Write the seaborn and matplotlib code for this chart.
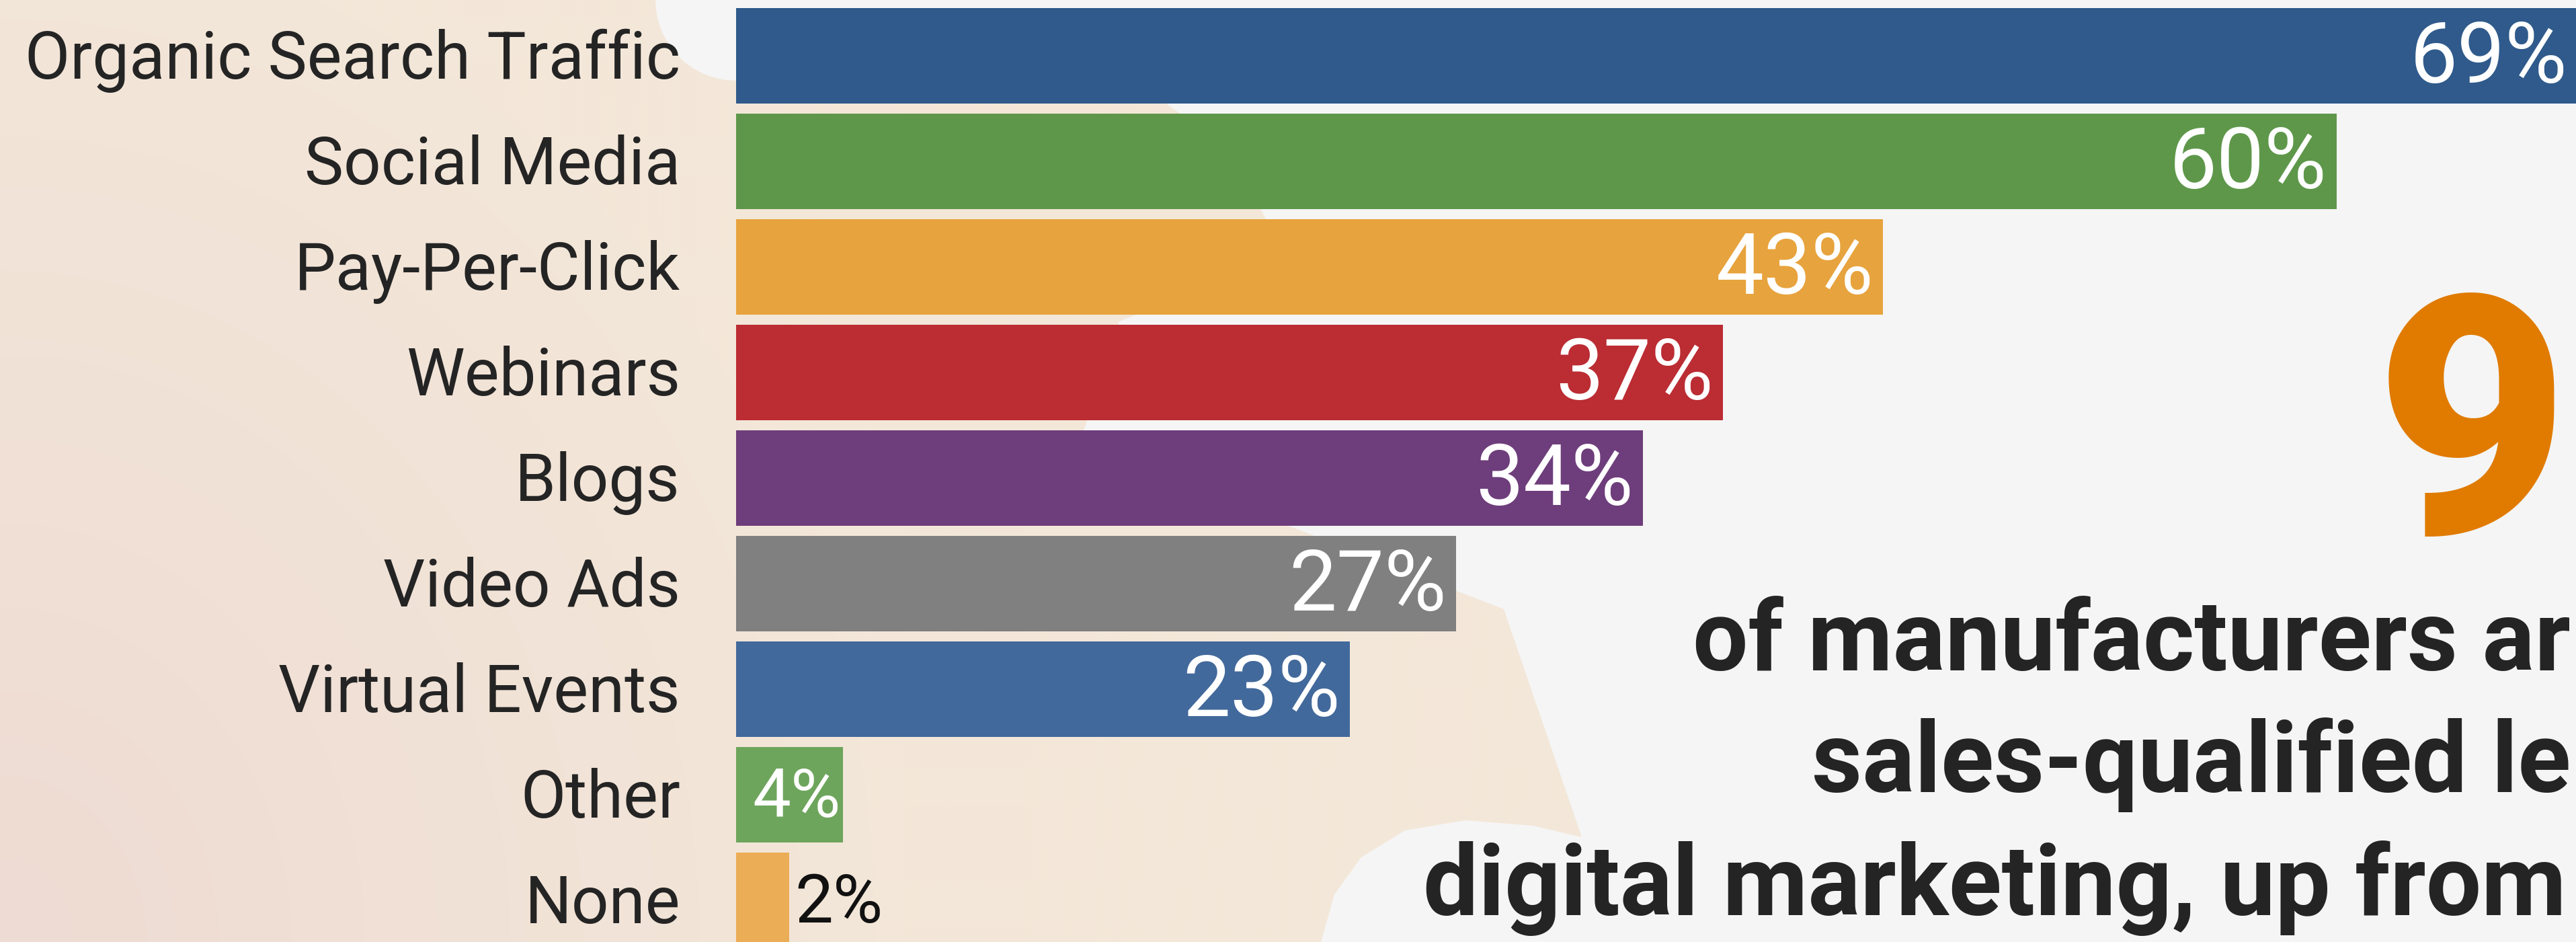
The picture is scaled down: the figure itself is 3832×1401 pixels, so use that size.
import numpy as np
import pandas as pd
import matplotlib
matplotlib.use("Agg")
import matplotlib.pyplot as plt
import seaborn as sns
from matplotlib import transforms
from matplotlib.path import Path
from matplotlib.patches import PathPatch

# ---------------- data ----------------
categories = ["Organic Search Traffic", "Social Media", "Pay-Per-Click", "Webinars",
              "Blogs", "Video Ads", "Virtual Events", "Other", "None"]
values = [69, 60, 43, 37, 34, 27, 23, 4, 2]
value_labels = ["69%", "60%", "43%", "37%", "34%", "27%", "23%", "4%", "2%"]
bar_colors = ["#2f5a8b", "#5e974a", "#e7a33d", "#bb2c33", "#6e3d7b",
              "#7f807f", "#42699b", "#6ea55c", "#ebad55"]
label_inside = [True, True, True, True, True, True, True, True, False]
label_small = [False, False, False, False, False, False, False, True, True]
headline_lines = ["of manufacturers ar", "sales-qualified le", "digital marketing, up from"]
big_number = "9"

# ---------------- figure ----------------
W, H, DPI = 3832, 1401, 100
sns.set_style("white")
plt.rcParams["font.family"] = ["Roboto", "DejaVu Sans"]

fig = plt.figure(figsize=(W / DPI, H / DPI), dpi=DPI, facecolor="#f5f5f5")

# background shapes (pixel coordinates, y downward)
bg = fig.add_axes([0, 0, 1, 1], zorder=0)
bg.set_axis_off()
yy, xx = np.mgrid[0:H:3, 0:W:3].astype(float)
p = np.clip(1 - np.sqrt((xx / 1300.0) ** 2 + ((H - yy) / 1500.0) ** 2), 0, 1)
beige = np.array([243, 231, 217]) / 255.0
pink = np.array([238, 219, 211]) / 255.0
rgb = beige[None, None, :] * (1 - p[..., None]) + pink[None, None, :] * p[..., None]
im = bg.imshow(rgb, extent=(0, W, H, 0), interpolation="bilinear", aspect="auto")

verts = [(0, 0), (975, 0)]
for th in np.linspace(np.pi, np.pi / 2, 12)[1:]:
    verts.append((1095 + 120 * np.cos(th), 120 * np.sin(th)))
verts += [(1650, 122), (1715, 140), (1785, 190), (1850, 260), (1885, 330), (1860, 395),
          (1760, 440), (1665, 478), (1615, 632), (1590, 700), (1760, 740), (1922, 784),
          (2237, 906), (2353, 1245), (2280, 1228), (2180, 1220), (2090, 1235),
          (2025, 1275), (1985, 1330), (1965, 1401), (0, 1401), (0, 0)]
codes = [Path.MOVETO] + [Path.LINETO] * (len(verts) - 2) + [Path.CLOSEPOLY]
clip_patch = PathPatch(Path(verts, codes), transform=bg.transData,
                       facecolor="none", edgecolor="none")
bg.add_patch(clip_patch)
im.set_clip_path(clip_patch)
bg.set_xlim(0, W)
bg.set_ylim(H, 0)

# ---------------- bar chart ----------------
x0 = 1095
px_per_pct = 39.68
pitch = 157.0
first_center = 83.0

ax = fig.add_axes([x0 / W, 0, 1 - x0 / W, 1], zorder=1)
ax.patch.set_visible(False)
df = pd.DataFrame({"channel": categories, "share": values})
sns.barplot(data=df, x="share", y="channel", hue="channel", palette=bar_colors,
            orient="h", width=142 / pitch, saturation=1, legend=False,
            linewidth=0, ax=ax)
ax.set_xlim(0, (W - x0) / px_per_pct)
ax.set_ylim((H - first_center) / pitch, -first_center / pitch)
ax.set_axis_off()

renderer = fig.canvas.get_renderer()

# category labels
lab_tr = transforms.offset_copy(
    transforms.blended_transform_factory(ax.transAxes, ax.transData),
    fig=fig, x=-(x0 - 1012), y=-34, units="dots")
cat_texts = []
for i, c in enumerate(categories):
    t = ax.text(0, i, c, ha="right", va="baseline", fontsize=70,
                color="#242424", transform=lab_tr)
    cat_texts.append(t)
w = cat_texts[0].get_window_extent(renderer).width
fs = 70 * 975.0 / w
for t in cat_texts:
    t.set_fontsize(fs)

# value labels
for i, (v, lab) in enumerate(zip(values, value_labels)):
    size = 73 if label_small[i] else 91
    dy = -33 if label_small[i] else -40
    if label_inside[i]:
        tr = transforms.offset_copy(ax.transData, fig=fig,
                                    x=-3 if label_small[i] else -14, y=dy, units="dots")
        ax.text(v, i, lab, ha="right", va="baseline", fontsize=size,
                color="white", transform=tr)
    else:
        tr = transforms.offset_copy(ax.transData, fig=fig, x=8, y=dy, units="dots")
        ax.text(v, i, lab, ha="left", va="baseline", fontsize=size,
                color="#111111", transform=tr)

# ---------------- headline ----------------
line_pos = [(2551, 997), (2761, 1178), (2117, 1361)]
htexts = []
for (lx, ly), s in zip(line_pos, headline_lines):
    t = fig.text(lx / W, 1 - ly / H, s, ha="left", va="baseline", fontsize=100,
                 fontweight="bold", color="#242424", zorder=3)
    htexts.append(t)
w3 = htexts[2].get_window_extent(renderer).width
hfs = 100 * 1700.0 / w3
for t in htexts:
    t.set_fontsize(hfs)
# keep every headline line inside the right edge of the picture
for (lx, ly), t in zip(line_pos, htexts):
    right = t.get_window_extent(renderer).x1
    if right > W - 8:
        t.set_x((lx - (right - (W - 8))) / W)

fig.text(3821 / W, 1 - 793 / H, big_number, ha="right", va="baseline",
         fontsize=357, fontweight="black", color="#e07b00", zorder=3)

fig.savefig("out.png", dpi=DPI, facecolor=fig.get_facecolor())
